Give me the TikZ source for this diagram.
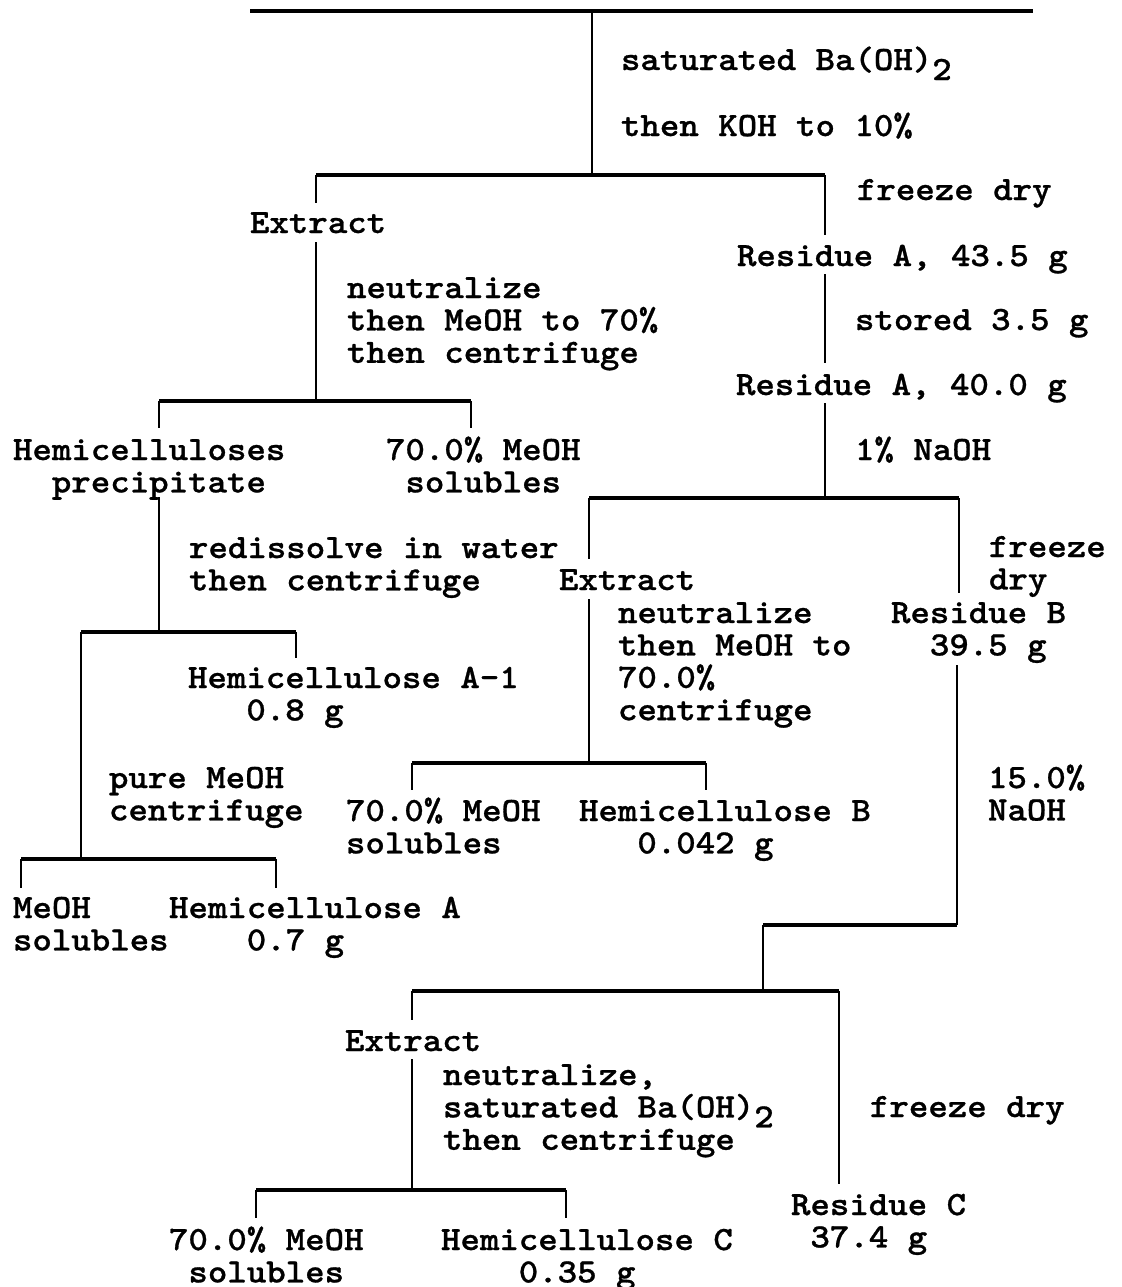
\documentclass[tikz,border=0pt]{standalone}
\usepackage{fontspec}
\setmainfont{lmmonolt10-bold}[Extension=.otf, FakeStretch=1.09, FakeBold=0.8]
\newcommand\ml[1]{\vtop{\baselineskip=16.2pt\lineskiplimit=-50pt\lineskip=0pt\halign{##\hfil\cr#1\crcr}}}
\newcommand\subtwo{\raisebox{-5pt}{2}}
\tikzset{
  lbl/.style={anchor=base west, inner sep=0pt, outer sep=0pt, font=\fontsize{17}{16.2}\selectfont},
  bar/.style={line width=1.6pt},
  stem/.style={line width=0.9pt},
}
\begin{document}
\begin{tikzpicture}[x=0.5pt,y=-0.5pt]
\useasboundingbox (0,0) rectangle (1121,1287);
% ---------- text nodes ----------
\node[lbl] (sat1)  at (621,70)   {saturated Ba(OH)\subtwo};
\node[lbl] (koh)   at (621,136)  {then KOH to 10\%};
\node[lbl] (fd1)   at (857,200)  {freeze dry};
\node[lbl] (ext1)  at (250,233)  {Extract};
\node[lbl] (resA1) at (737,266)  {Residue A, 43.5 g};
\node[lbl] (neu1)  at (347,298)  {\ml{neutralize\cr then MeOH to 70\%\cr then centrifuge}};
\node[lbl] (sto)   at (855,330)  {stored 3.5 g};
\node[lbl] (resA2) at (736,395)  {Residue A, 40.0 g};
\node[lbl] (hemp)  at (13,460)   {\ml{Hemicelluloses\cr\hphantom{00}precipitate}};
\node[lbl] (sol1)  at (386,460)  {\ml{70.0\% MeOH\cr\hphantom{0}solubles}};
\node[lbl] (naoh1) at (855,460)  {1\% NaOH};
\node[lbl] (redis) at (189,558)  {\ml{redissolve in water\cr then centrifuge}};
\node[lbl] (ext2)  at (559,590)  {Extract};
\node[lbl] (fd2)   at (989,557)  {\ml{freeze\cr dry}};
\node[lbl] (resB)  at (891,623)  {\ml{Residue B\cr\hphantom{00}39.5 g}};
\node[lbl] (neu2)  at (618,623)  {\ml{neutralize\cr then MeOH to\cr 70.0\%\cr centrifuge}};
\node[lbl] (hemA1) at (188,688)  {\ml{Hemicellulose A-1\cr\hphantom{000}0.8 g}};
\node[lbl] (pure)  at (109,788)  {\ml{pure MeOH\cr centrifuge}};
\node[lbl] (naoh2) at (988,788)  {\ml{15.0\%\cr NaOH}};
\node[lbl] (sol2)  at (346,821)  {\ml{70.0\% MeOH\cr solubles}};
\node[lbl] (hemB)  at (579,821)  {\ml{Hemicellulose B\cr\hphantom{000}0.042 g}};
\node[lbl] (msol)  at (13,918)   {\ml{MeOH\cr solubles}};
\node[lbl] (hemA)  at (169,918)  {\ml{Hemicellulose A\cr\hphantom{0000}0.7 g}};
\node[lbl] (ext3)  at (345,1051) {Extract};
\node[lbl] (neu3)  at (443,1085) {\ml{neutralize,\cr saturated Ba(OH)\subtwo\cr then centrifuge}};
\node[lbl] (fd3)   at (870,1117) {freeze dry};
\node[lbl] (resC)  at (791,1215) {\ml{Residue C\cr\hphantom{0}37.4 g}};
\node[lbl] (sol3)  at (169,1250) {\ml{70.0\% MeOH\cr\hphantom{0}solubles}};
\node[lbl] (hemC)  at (441,1250) {\ml{Hemicellulose C\cr\hphantom{0000}0.35 g}};
% ---------- junction coordinates ----------
\coordinate (A0) at (250,11);  \coordinate (A1) at (1033,11); \coordinate (Aj) at (592,11);
\coordinate (B0) at (316,175); \coordinate (B1) at (825,175); \coordinate (Bj) at (592,175);
\coordinate (C0) at (159,401); \coordinate (C1) at (471,401); \coordinate (Cj) at (316,401);
\coordinate (D0) at (589,498); \coordinate (D1) at (959,498); \coordinate (Dj) at (825,498);
\coordinate (E0) at (81,632);  \coordinate (E1) at (296,632); \coordinate (Ej) at (159,632);
\coordinate (F0) at (412,763); \coordinate (F1) at (706,763); \coordinate (Fj) at (589,763);
\coordinate (G0) at (21,859);  \coordinate (G1) at (276,859); \coordinate (Gj) at (81,859);
\coordinate (H0) at (763,925); \coordinate (H1) at (957,925);
\coordinate (I0) at (412,991); \coordinate (I1) at (839,991); \coordinate (Ij) at (763,991);
\coordinate (J0) at (256,1190);\coordinate (J1) at (566,1190);\coordinate (Jj) at (412,1190);
% stem ends near texts
\coordinate (ext1t) at (316,203);  \coordinate (ext1b) at (316,242);
\coordinate (resA1t) at (825,235); \coordinate (resA1b) at (825,274);
\coordinate (resA2t) at (825,363); \coordinate (resA2b) at (825,403);
\coordinate (hempt) at (159,428);  \coordinate (hempb) at (159,497);
\coordinate (sol1t) at (471,428);
\coordinate (hemA1t) at (296,658);
\coordinate (ext2t) at (589,559);  \coordinate (ext2b) at (589,599);
\coordinate (resBt) at (959,593);  \coordinate (resBb) at (957,665);
\coordinate (sol2t) at (412,790);  \coordinate (hemBt) at (706,790);
\coordinate (msolt) at (21,888);   \coordinate (hemAt) at (276,888);
\coordinate (ext3t) at (412,1020); \coordinate (ext3b) at (412,1059);
\coordinate (resCt) at (839,1184);
\coordinate (sol3t) at (256,1218); \coordinate (hemCt) at (566,1218);
% ---------- bars ----------
\draw[bar] (A0) -- (A1);
\draw[bar] (B0) -- (B1);
\draw[bar] (C0) -- (C1);
\draw[bar] (D0) -- (D1);
\draw[bar] (E0) -- (E1);
\draw[bar] (F0) -- (F1);
\draw[bar] (G0) -- (G1);
\draw[bar] (H0) -- (H1);
\draw[bar] (I0) -- (I1);
\draw[bar] (J0) -- (J1);
% ---------- stems ----------
\draw[stem] (Aj) -- (Bj);
\draw[stem] (B0) -- (ext1t);
\draw[stem] (B1) -- (resA1t);
\draw[stem] (ext1b) -- (Cj);
\draw[stem] (resA1b) -- (resA2t);
\draw[stem] (resA2b) -- (Dj);
\draw[stem] (C0) -- (hempt);
\draw[stem] (C1) -- (sol1t);
\draw[stem] (hempb) -- (Ej);
\draw[stem] (E1) -- (hemA1t);
\draw[stem] (E0) -- (Gj);
\draw[stem] (D0) -- (ext2t);
\draw[stem] (D1) -- (resBt);
\draw[stem] (ext2b) -- (Fj);
\draw[stem] (F0) -- (sol2t);
\draw[stem] (F1) -- (hemBt);
\draw[stem] (G0) -- (msolt);
\draw[stem] (G1) -- (hemAt);
\draw[stem] (resBb) -- (H1);
\draw[stem] (H0) -- (Ij);
\draw[stem] (I0) -- (ext3t);
\draw[stem] (I1) -- (resCt);
\draw[stem] (ext3b) -- (Jj);
\draw[stem] (J0) -- (sol3t);
\draw[stem] (J1) -- (hemCt);
\end{tikzpicture}
\end{document}
